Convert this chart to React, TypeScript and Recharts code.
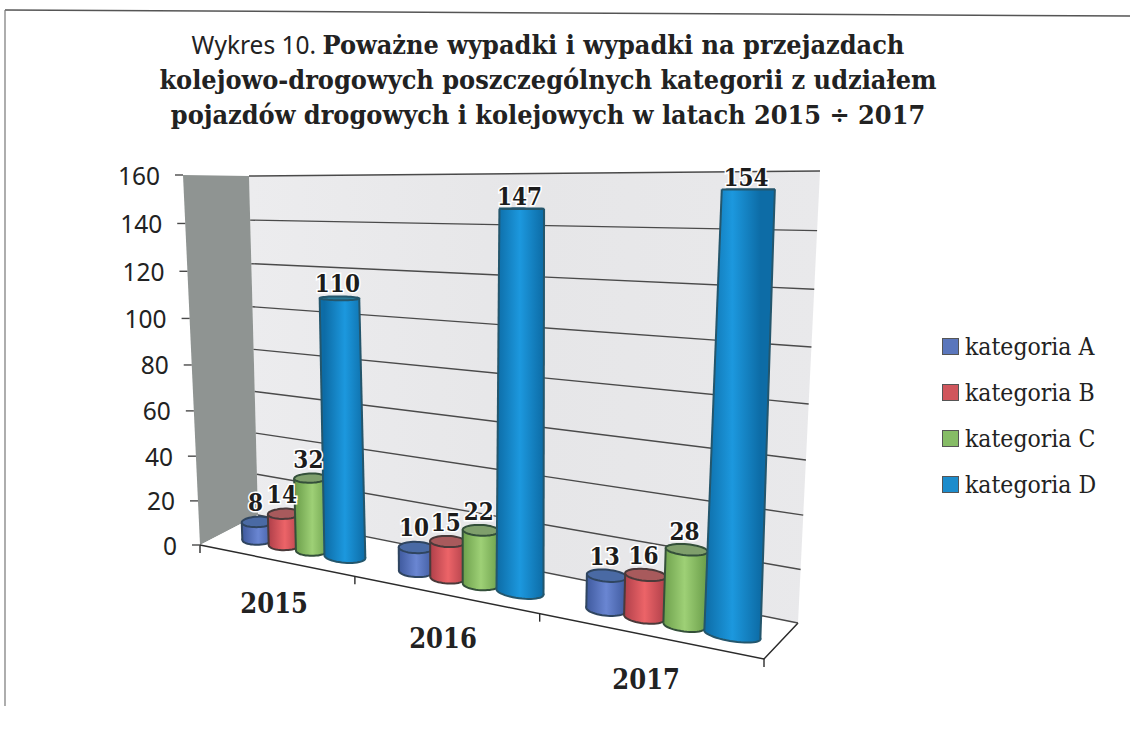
import React from 'react';
import { BarChart, Bar, XAxis, YAxis, CartesianGrid, Legend, LabelList } from 'recharts';

const years = ['2015', '2016', '2017'];
const kategoriaA = [8, 10, 13];
const kategoriaB = [14, 15, 16];
const kategoriaC = [32, 22, 28];
const kategoriaD = [110, 147, 154];
const yTicks = [0, 20, 40, 60, 80, 100, 120, 140, 160];

const data = years.map((year, i) => ({
  year,
  a: kategoriaA[i],
  b: kategoriaB[i],
  c: kategoriaC[i],
  d: kategoriaD[i],
}));

const SERIF = '"DejaVu Serif Condensed", "DejaVu Serif", serif';

// plot rectangle that recharts works in, the shapes project it onto the 3d box
const L = 200;
const R = 764;
const T = 175;
const B = 545;

type Pt = [number, number];

function quad(p0: Pt, p1: Pt, p2: Pt, p3: Pt) {
  const dx1 = p1[0] - p2[0];
  const dx2 = p3[0] - p2[0];
  const sx = p0[0] - p1[0] + p2[0] - p3[0];
  const dy1 = p1[1] - p2[1];
  const dy2 = p3[1] - p2[1];
  const sy = p0[1] - p1[1] + p2[1] - p3[1];
  const den = dx1 * dy2 - dx2 * dy1;
  const g = (sx * dy2 - dx2 * sy) / den;
  const h = (dx1 * sy - sx * dy1) / den;
  const a = p1[0] - p0[0] + g * p1[0];
  const b = p3[0] - p0[0] + h * p3[0];
  const d = p1[1] - p0[1] + g * p1[1];
  const e = p3[1] - p0[1] + h * p3[1];
  return (u: number, v: number): Pt => {
    const w = g * u + h * v + 1;
    return [(a * u + b * v + p0[0]) / w, (d * u + e * v + p0[1]) / w];
  };
}

const front = quad([200, 545], [764, 659], [783, 170], [183, 175]);
const back = quad([258, 515], [798, 623], [820, 171], [249, 176]);

const project = (u: number, v: number, w: number): Pt => {
  const f = front(u, v);
  const b = back(u, v);
  return [f[0] + (b[0] - f[0]) * w, f[1] + (b[1] - f[1]) * w];
};

const toU = (x: number) => (x - L) / (R - L);
const toV = (y: number) => (B - y) / (B - T);

const pts = (list: Pt[]) => list.map((p) => `${p[0].toFixed(1)},${p[1].toFixed(1)}`).join(' ');

const BAR_DEPTH = 0.42;
const DEPTH_R = 0.16;
const U_SHIFT = 0.012;
const TAPER = 0.13;

const ring = (uc: number, ru: number, v: number): Pt[] => {
  const out: Pt[] = [];
  const r = ru * (1 - TAPER * v);
  for (let i = 0; i < 48; i++) {
    const t = (i / 48) * Math.PI * 2;
    out.push(project(uc + r * Math.cos(t), v, BAR_DEPTH + DEPTH_R * Math.sin(t)));
  }
  return out;
};

const styles: Record<string, { edge: string; mid: string; top: string; line: string }> = {
  a: { edge: '#3f5a9e', mid: '#6a86d2', top: '#4a6aa4', line: '#2f4560' },
  b: { edge: '#b0404a', mid: '#ec6468', top: '#a85a5c', line: '#4a3a3a' },
  c: { edge: '#6da04c', mid: '#9ed076', top: '#7f9f6c', line: '#34503a' },
  d: { edge: '#0d6ca6', mid: '#1c98de', top: '#2a7a98', line: '#24566c' },
};

const Cylinder = (props: any) => {
  const { x, y, width, height, seriesKey, index } = props;
  if (!height) return null;
  const uc = toU(x + width / 2) + U_SHIFT;
  const ru = (width / 2) / (R - L);
  const s = styles[seriesKey];
  const base = ring(uc, ru, 0);
  const top = ring(uc, ru, toV(y));
  const byX = (list: Pt[]) => {
    let lo = list[0];
    let hi = list[0];
    list.forEach((p) => {
      if (p[0] < lo[0]) lo = p;
      if (p[0] > hi[0]) hi = p;
    });
    return [lo, hi];
  };
  const [bl, br] = byX(base);
  const [tl, tr] = byX(top);
  const id = `cyl-${seriesKey}-${index}`;
  return (
    <g>
      <defs>
        <linearGradient id={id} gradientUnits="userSpaceOnUse" x1={bl[0]} x2={br[0]} y1={0} y2={0}>
          <stop offset="0" stopColor={s.edge} />
          <stop offset="0.5" stopColor={s.mid} />
          <stop offset="1" stopColor={s.edge} />
        </linearGradient>
      </defs>
      <polygon points={pts(base)} fill={`url(#${id})`} stroke={s.line} strokeWidth={2} />
      <polygon points={pts([tl, tr, br, bl])} fill={`url(#${id})`} />
      <line x1={tl[0]} y1={tl[1]} x2={bl[0]} y2={bl[1]} stroke={s.line} strokeWidth={2} />
      <line x1={tr[0]} y1={tr[1]} x2={br[0]} y2={br[1]} stroke={s.line} strokeWidth={2} />
      <polygon points={pts(top)} fill={s.top} stroke={s.line} strokeWidth={2} />
    </g>
  );
};

const ValueLabel = (props: any) => {
  const { x, y, width, value } = props;
  const uc = toU(x + width / 2) + U_SHIFT;
  const v = toV(y);
  const p = project(uc, v, BAR_DEPTH);
  return (
    <text
      x={p[0] - 2}
      y={p[1] - 20 + 8 * v}
      textAnchor="middle"
      dominantBaseline="central"
      fontFamily={SERIF}
      fontWeight="bold"
      fontSize={24}
      fill="#1c1c1c"
      stroke="#ffffff"
      strokeWidth={3}
      paintOrder="stroke"
    >
      {value}
    </text>
  );
};

// walls come with the first grid line so they stay under everything else
const GridLine = (props: any) => {
  const v = toV(props.y1);
  const a = project(0, v, 1);
  const b = project(1, v, 1);
  return (
    <g>
      {props.index === 0 && (
        <g>
          <defs>
            <linearGradient id="backWall" x1="0" x2="1" y1="0" y2="0">
              <stop offset="0" stopColor="#ececee" />
              <stop offset="0.5" stopColor="#e6e6e8" />
              <stop offset="1" stopColor="#e9e9eb" />
            </linearGradient>
          </defs>
          <polygon
            points={pts([project(0, 0, 1), project(1, 0, 1), project(1, 1, 1), project(0, 1, 1)])}
            fill="url(#backWall)"
          />
          <polygon
            points={pts([project(0, 0, 0), project(0, 0, 1), project(0, 1, 1), project(0, 1, 0)])}
            fill="#8f9492"
          />
          <polygon
            points={pts([project(0, 0, 0), project(1, 0, 0), project(1, 0, 1), project(0, 0, 1)])}
            fill="#ffffff"
          />
          <polyline
            points={pts([project(0, 0, 0), project(1, 0, 0), project(1, 0, 1)])}
            fill="none"
            stroke="#2b2b2b"
            strokeWidth={1.5}
          />
        </g>
      )}
      <line x1={a[0]} y1={a[1]} x2={b[0]} y2={b[1]} stroke="#4a4a4a" strokeWidth={1.4} />
    </g>
  );
};

const YTick = (props: any) => {
  const p = project(0, toV(props.y), 0);
  return (
    <g>
      <line x1={p[0] - 8} y1={p[1]} x2={p[0]} y2={p[1]} stroke="#4a4a4a" strokeWidth={1.4} />
      <text
        x={p[0] - 23}
        y={p[1]}
        textAnchor="end"
        dominantBaseline="central"
        fontFamily='"Noto Sans", sans-serif'
        fontSize={24.5}
        fill="#222"
      >
        {props.payload.value}
      </text>
    </g>
  );
};

const XTick = (props: any) => {
  const band = (R - L) / years.length;
  const u = toU(props.x);
  const p = project(u, 0, 0);
  const edges = [u - band / 2 / (R - L)];
  if (props.index === years.length - 1) edges.push(1);
  return (
    <g>
      {edges.map((e) => {
        const q = project(e, 0, 0);
        return <line key={e} x1={q[0]} y1={q[1]} x2={q[0]} y2={q[1] + 8} stroke="#2b2b2b" strokeWidth={1.4} />;
      })}
      <text
        x={p[0]}
        y={p[1] + 44}
        textAnchor="middle"
        dominantBaseline="central"
        fontFamily={SERIF}
        fontWeight="bold"
        fontSize={27}
        fill="#222"
      >
        {props.payload.value}
      </text>
    </g>
  );
};

const LegendList = (props: any) => (
  <div>
    {props.payload.map((item: any) => (
      <div key={item.value} style={{ display: 'flex', alignItems: 'center', height: 46 }}>
        <span
          style={{
            display: 'inline-block',
            width: 15,
            height: 15,
            background: item.color,
            border: '1px solid #555',
            marginRight: 6,
          }}
        />
        <span style={{ fontFamily: SERIF, fontSize: 24.5, color: '#222' }}>{item.value}</span>
      </div>
    ))}
  </div>
);

const titleLine: React.CSSProperties = { height: 35, lineHeight: '35px', whiteSpace: 'nowrap' };

export default function App() {
  return (
    <div style={{ position: 'absolute', left: 0, top: 0, width: 1130, height: 731, background: '#fff', overflow: 'hidden' }}>
      <svg width={1130} height={731} style={{ position: 'absolute', left: 0, top: 0 }}>
        <line x1={5} y1={10} x2={1130} y2={16} stroke="#555" strokeWidth={1.5} />
        <line x1={5} y1={10} x2={5} y2={706} stroke="#777" strokeWidth={1.2} />
      </svg>
      <div
        style={{
          position: 'absolute',
          left: 0,
          top: 27,
          width: 1096,
          textAlign: 'center',
          fontFamily: SERIF,
          fontWeight: 'bold',
          fontSize: 26.8,
          color: '#222',
        }}
      >
        <div style={titleLine}>
          <span style={{ fontFamily: '"Noto Sans", sans-serif', fontWeight: 'normal', fontSize: 24.5 }}>Wykres 10. </span>
          Poważne wypadki i wypadki na przejazdach
        </div>
        <div style={titleLine}>kolejowo-drogowych poszczególnych kategorii z udziałem</div>
        <div style={titleLine}>pojazdów drogowych i kolejowych w latach 2015 ÷ 2017</div>
      </div>
      <div style={{ position: 'absolute', left: 0, top: 0 }}>
        <BarChart
          width={1130}
          height={731}
          data={data}
          margin={{ left: L - 1, right: 1130 - R, top: T, bottom: 731 - B - 1 }}
          barGap={0}
        >
          <CartesianGrid vertical={false} horizontal={(p: any) => <GridLine key={p.index} {...p} />} />
          <XAxis dataKey="year" height={1} interval={0} axisLine={false} tickLine={false} tick={(p: any) => <XTick {...p} />} />
          <YAxis
            width={1}
            domain={[0, 160]}
            ticks={yTicks}
            interval={0}
            axisLine={false}
            tickLine={false}
            tick={(p: any) => <YTick {...p} />}
          />
          <Legend
            layout="vertical"
            align="center"
            verticalAlign="middle"
            wrapperStyle={{ left: 942, top: 323, width: 170 }}
            content={(p: any) => <LegendList {...p} />}
          />
          <Bar dataKey="a" name="kategoria A" fill="#5a76bc" barSize={34} isAnimationActive={false}
            shape={(p: any) => <Cylinder {...p} seriesKey="a" />}>
            <LabelList dataKey="a" content={(p: any) => <ValueLabel {...p} />} />
          </Bar>
          <Bar dataKey="b" name="kategoria B" fill="#d0565c" barSize={34} isAnimationActive={false}
            shape={(p: any) => <Cylinder {...p} seriesKey="b" />}>
            <LabelList dataKey="b" content={(p: any) => <ValueLabel {...p} />} />
          </Bar>
          <Bar dataKey="c" name="kategoria C" fill="#86bc66" barSize={34} isAnimationActive={false}
            shape={(p: any) => <Cylinder {...p} seriesKey="c" />}>
            <LabelList dataKey="c" content={(p: any) => <ValueLabel {...p} />} />
          </Bar>
          <Bar dataKey="d" name="kategoria D" fill="#1c8ccc" barSize={44} isAnimationActive={false}
            shape={(p: any) => <Cylinder {...p} seriesKey="d" />}>
            <LabelList dataKey="d" content={(p: any) => <ValueLabel {...p} />} />
          </Bar>
        </BarChart>
      </div>
    </div>
  );
}
